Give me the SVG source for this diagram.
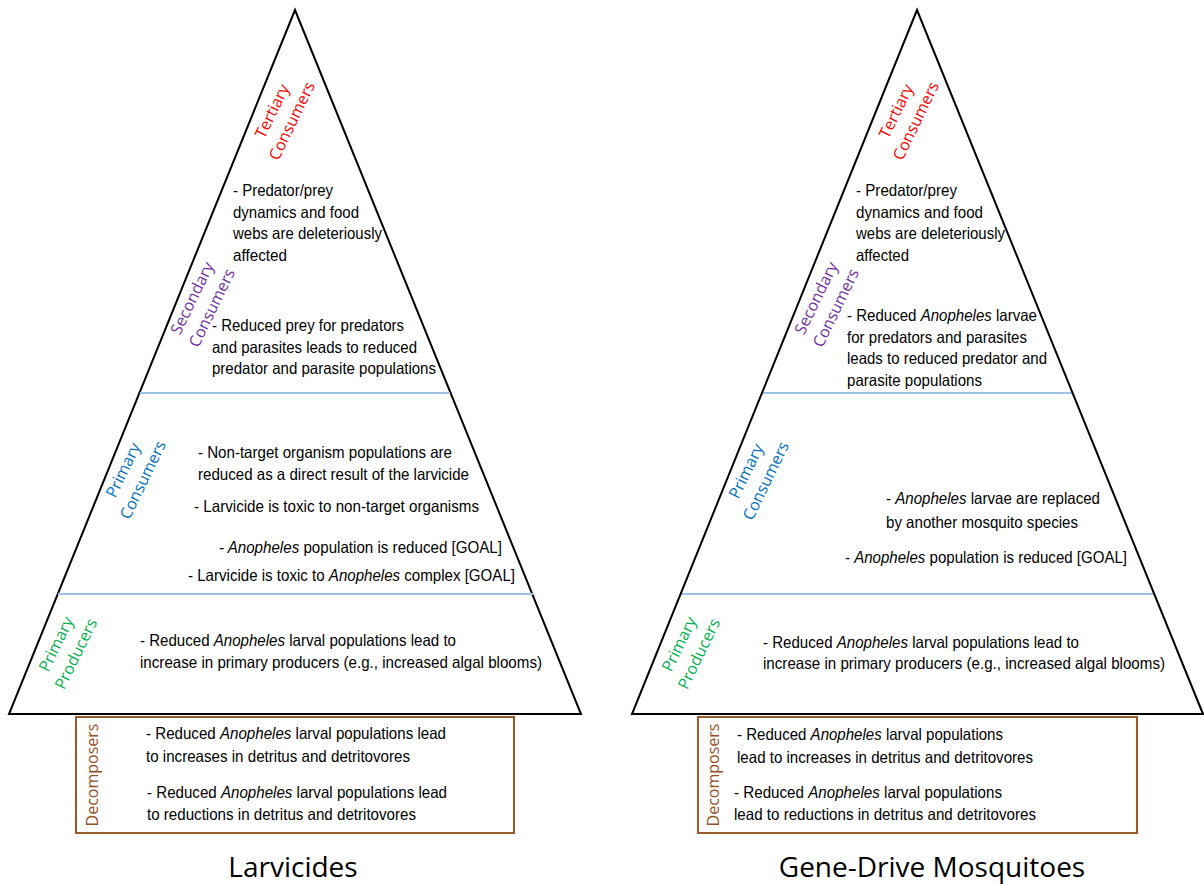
<svg xmlns="http://www.w3.org/2000/svg" width="1204" height="884" viewBox="0 0 1204 884">
<style>
.tri{fill:none;stroke:#000;stroke-width:2;stroke-linejoin:miter}
.band{stroke:#9DC3E6;stroke-width:2}
.box{fill:none;stroke:#9A5A2B;stroke-width:2}
.t{font-family:"Liberation Sans",Arial,sans-serif;font-size:16.5px;fill:#000}
.i{font-style:italic}
.lbl{font-family:"Open Sans","Noto Sans",sans-serif;font-size:16px;text-anchor:middle}
.ter{fill:#FF0000}
.sec{fill:#7030A0}
.pc{fill:#0070C0}
.pp{fill:#00B050}
.dec{fill:#94501F}
.title{font-family:"Open Sans","Noto Sans",sans-serif;font-size:28px;text-anchor:middle;fill:#000}
</style>
<rect width="1204" height="884" fill="#fff"/>

<!-- LEFT PYRAMID: Larvicides -->
<g id="left-pyramid">
  <polygon class="tri" points="295,10 9,714 581,714"/>
</g>
<g id="dividers">
  <line class="band" x1="140" y1="393" x2="450" y2="393"/>
  <line class="band" x1="58" y1="594" x2="533" y2="594"/>
  <line class="band" x1="762" y1="393" x2="1072" y2="393"/>
  <line class="band" x1="680" y1="594" x2="1155" y2="594"/>
</g>

<g id="left-tertiary">
  <text class="lbl ter" transform="translate(282,116) rotate(-64)"><tspan x="0" y="-5.5">Tertiary</tspan><tspan x="0" y="16.5">Consumers</tspan></text>
  <text class="t" x="233" y="196" textLength="100" lengthAdjust="spacingAndGlyphs">- Predator/prey</text>
  <text class="t" x="233" y="218" textLength="126" lengthAdjust="spacingAndGlyphs">dynamics and food</text>
  <text class="t" x="233" y="239" textLength="149" lengthAdjust="spacingAndGlyphs">webs are deleteriously</text>
  <text class="t" x="233" y="261" textLength="54" lengthAdjust="spacingAndGlyphs">affected</text>
</g>

<g id="left-secondary">
  <text class="lbl sec" transform="translate(202,303) rotate(-64)"><tspan x="0" y="-5.5">Secondary</tspan><tspan x="0" y="16.5">Consumers</tspan></text>
  <text class="t" x="212" y="331" textLength="192" lengthAdjust="spacingAndGlyphs">- Reduced prey for predators</text>
  <text class="t" x="212" y="353" textLength="205" lengthAdjust="spacingAndGlyphs">and parasites leads to reduced</text>
  <text class="t" x="212" y="374" textLength="224" lengthAdjust="spacingAndGlyphs">predator and parasite populations</text>
</g>

<g id="left-primary-consumers">
  <text class="lbl pc" transform="translate(133,475) rotate(-64)"><tspan x="0" y="-5.5">Primary</tspan><tspan x="0" y="16.5">Consumers</tspan></text>
  <text class="t" x="198" y="458" textLength="254" lengthAdjust="spacingAndGlyphs">- Non-target organism populations are</text>
  <text class="t" x="198" y="480" textLength="271" lengthAdjust="spacingAndGlyphs">reduced as a direct result of the larvicide</text>
  <text class="t" x="194" y="512" textLength="285" lengthAdjust="spacingAndGlyphs">- Larvicide is toxic to non-target organisms</text>
  <text class="t" x="219" y="553" textLength="283" lengthAdjust="spacingAndGlyphs"><tspan class="i">- Anopheles</tspan> population is reduced [GOAL]</text>
  <text class="t" x="188" y="581" textLength="327" lengthAdjust="spacingAndGlyphs">- Larvicide is toxic to <tspan class="i">Anopheles</tspan> complex [GOAL]</text>
</g>

<g id="left-primary-producers">
  <text class="lbl pp" transform="translate(66,649) rotate(-64)"><tspan x="0" y="-5.5">Primary</tspan><tspan x="0" y="16.5">Producers</tspan></text>
  <text class="t" x="140" y="646" textLength="316" lengthAdjust="spacingAndGlyphs">- Reduced <tspan class="i">Anopheles</tspan> larval populations lead to</text>
  <text class="t" x="140" y="668" textLength="402" lengthAdjust="spacingAndGlyphs">increase in primary producers (e.g., increased algal blooms)</text>
</g>

<g id="left-decomposers">
  <rect class="box" x="76" y="717" width="438" height="116"/>
  <text class="lbl dec" transform="translate(92,775) rotate(-90)"><tspan x="0" y="5.5">Decomposers</tspan></text>
  <text class="t" x="146" y="739" textLength="300" lengthAdjust="spacingAndGlyphs">- Reduced <tspan class="i">Anopheles</tspan> larval populations lead</text>
  <text class="t" x="146" y="762" textLength="264" lengthAdjust="spacingAndGlyphs">to increases in detritus and detritovores</text>
  <text class="t" x="147" y="798" textLength="300" lengthAdjust="spacingAndGlyphs">- Reduced <tspan class="i">Anopheles</tspan> larval populations lead</text>
  <text class="t" x="147" y="820" textLength="269" lengthAdjust="spacingAndGlyphs">to reductions in detritus and detritovores</text>
</g>

<g id="left-title">
  <text class="title" x="293" y="877">Larvicides</text>
</g>

<!-- RIGHT PYRAMID: Gene-Drive Mosquitoes -->
<g id="right-pyramid">
  <polygon class="tri" points="917,10 632,714 1203,714"/>
</g>

<g id="right-tertiary">
  <text class="lbl ter" transform="translate(906,116) rotate(-64)"><tspan x="0" y="-5.5">Tertiary</tspan><tspan x="0" y="16.5">Consumers</tspan></text>
  <text class="t" x="856" y="196" textLength="101" lengthAdjust="spacingAndGlyphs">- Predator/prey</text>
  <text class="t" x="856" y="218" textLength="127" lengthAdjust="spacingAndGlyphs">dynamics and food</text>
  <text class="t" x="856" y="239" textLength="149" lengthAdjust="spacingAndGlyphs">webs are deleteriously</text>
  <text class="t" x="856" y="261" textLength="53" lengthAdjust="spacingAndGlyphs">affected</text>
</g>

<g id="right-secondary">
  <text class="lbl sec" transform="translate(826,303) rotate(-64)"><tspan x="0" y="-5.5">Secondary</tspan><tspan x="0" y="16.5">Consumers</tspan></text>
  <text class="t" x="847" y="321" textLength="190" lengthAdjust="spacingAndGlyphs">- Reduced <tspan class="i">Anopheles</tspan> larvae</text>
  <text class="t" x="847" y="343" textLength="180" lengthAdjust="spacingAndGlyphs">for predators and parasites</text>
  <text class="t" x="847" y="364" textLength="200" lengthAdjust="spacingAndGlyphs">leads to reduced predator and</text>
  <text class="t" x="847" y="386" textLength="135" lengthAdjust="spacingAndGlyphs">parasite populations</text>
</g>

<g id="right-primary-consumers">
  <text class="lbl pc" transform="translate(756,476) rotate(-64)"><tspan x="0" y="-5.5">Primary</tspan><tspan x="0" y="16.5">Consumers</tspan></text>
  <text class="t" x="886" y="504" textLength="214" lengthAdjust="spacingAndGlyphs">- <tspan class="i">Anopheles</tspan> larvae are replaced</text>
  <text class="t" x="886" y="528" textLength="192" lengthAdjust="spacingAndGlyphs">by another mosquito species</text>
  <text class="t" x="845" y="563" textLength="282" lengthAdjust="spacingAndGlyphs">- <tspan class="i">Anopheles</tspan> population is reduced [GOAL]</text>
</g>

<g id="right-primary-producers">
  <text class="lbl pp" transform="translate(689,649) rotate(-64)"><tspan x="0" y="-5.5">Primary</tspan><tspan x="0" y="16.5">Producers</tspan></text>
  <text class="t" x="763" y="648" textLength="316" lengthAdjust="spacingAndGlyphs">- Reduced <tspan class="i">Anopheles</tspan> larval populations lead to</text>
  <text class="t" x="763" y="669" textLength="402" lengthAdjust="spacingAndGlyphs">increase in primary producers (e.g., increased algal blooms)</text>
</g>

<g id="right-decomposers">
  <rect class="box" x="698" y="717" width="439" height="116"/>
  <text class="lbl dec" transform="translate(713,775) rotate(-90)"><tspan x="0" y="5.5">Decomposers</tspan></text>
  <text class="t" x="737" y="740" textLength="266" lengthAdjust="spacingAndGlyphs">- Reduced <tspan class="i">Anopheles</tspan> larval populations</text>
  <text class="t" x="737" y="763" textLength="296" lengthAdjust="spacingAndGlyphs">lead to increases in detritus and detritovores</text>
  <text class="t" x="734" y="798" textLength="268" lengthAdjust="spacingAndGlyphs">- Reduced <tspan class="i">Anopheles</tspan> larval populations</text>
  <text class="t" x="734" y="820" textLength="302" lengthAdjust="spacingAndGlyphs">lead to reductions in detritus and detritovores</text>
</g>

<g id="right-title">
  <text class="title" x="932" y="877">Gene-Drive Mosquitoes</text>
</g>
</svg>
